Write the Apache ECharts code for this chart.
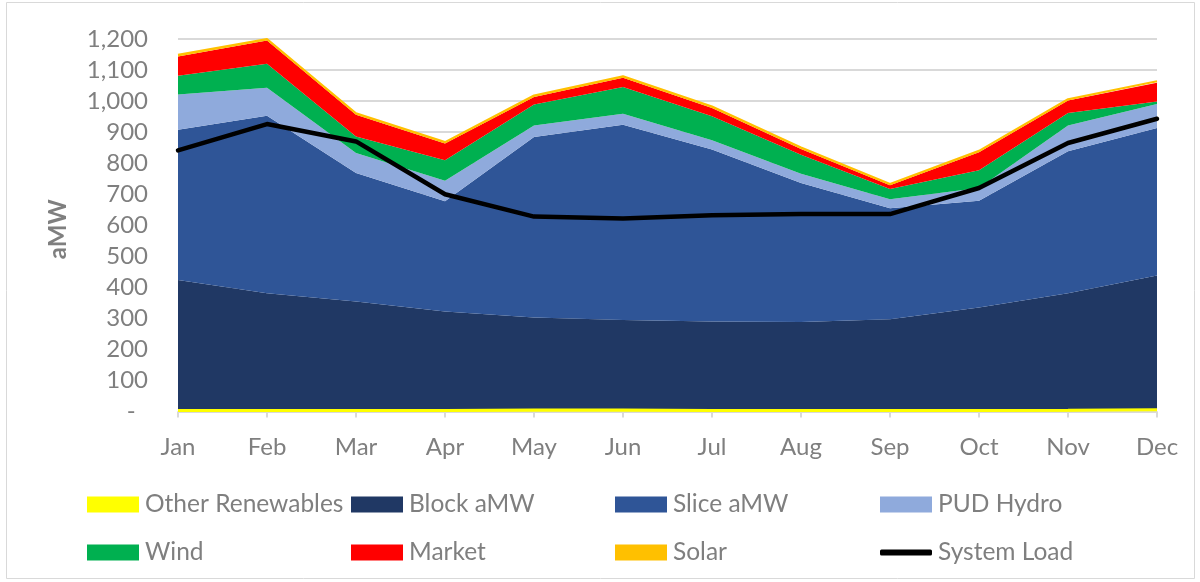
<!DOCTYPE html>
<html>
<head>
<meta charset="utf-8">
<script src="https://cdn.jsdelivr.net/npm/echarts@6/dist/echarts.min.js"></script>
<style>
html,body{margin:0;padding:0;background:#fff;}
#chart{width:1200px;height:582px;}
</style>
</head>
<body>
<div id="chart"></div>
<script>
const months = ['Jan','Feb','Mar','Apr','May','Jun','Jul','Aug','Sep','Oct','Nov','Dec'];
const otherRenewables = [3,3,3,3,5,5,3,3,3,3,4,6];
const blockAMW = [421,378,351,319,298,290,287,285,294,332,377,432];
const sliceAMW = [484,572,414,355,581,629,554,448,358,344,457,475];
const pudHydro = [113,90,65,66,37,35,30,30,29,41,83,78];
const wind = [61,77,53,66,68,86,77,61,33,57,41,8];
const market = [62,75,70,54,24,30,27,19,12,58,40,60];
const solar = [5,5,5,5,5,5,5,5,4,5,4,5];
const systemLoad = [841,926,870,700,628,622,632,636,636,720,865,943];

const FONT = 'Lato';
const GRAY = '#7f7f7f';

function areaSeries(name, data, color, lineW) {
  return {
    name: name, type: 'line', stack: 'total', data: data,
    showSymbol: false, symbol: 'none',
    lineStyle: { width: lineW || 0, color: color },
    itemStyle: { color: color },
    areaStyle: { color: color, opacity: 1 },
    emphasis: { disabled: true }
  };
}

const legendPos = [
  ['Other Renewables', 87, 0], ['Block aMW', 351, 0], ['Slice aMW', 615, 0], ['PUD Hydro', 880, 0],
  ['Wind', 87, 1], ['Market', 351, 1], ['Solar', 615, 1], ['System Load', 880, 1]
];
const rowY = [492, 540];
const legends = legendPos.map(function (p) {
  const isLine = p[0] === 'System Load';
  return {
    data: [isLine ? { name: p[0], icon: 'roundRect' } : { name: p[0], icon: 'rect' }],
    left: p[1], top: rowY[p[2]],
    itemWidth: 52, itemHeight: isLine ? 6 : 16, itemGap: 0,
    padding: 0,
    textStyle: { fontFamily: FONT, fontSize: 24.5, color: GRAY, padding: [0, 0, 0, 1], lineHeight: 24 },
    selectedMode: false
  };
});

const chart = echarts.init(document.getElementById('chart'), null, { renderer: 'canvas' });
chart.setOption({
  animation: false,
  backgroundColor: '#fff',
  grid: { left: 178, right: 43, top: 39, bottom: 170.5, containLabel: false },
  legend: legends,
  graphic: [{
    type: 'rect', shape: { x: 6.5, y: 2.5, width: 1188, height: 576 },
    style: { fill: 'none', stroke: '#d9d9d9', lineWidth: 1 }, silent: true, z: -10
  }],
  xAxis: {
    type: 'category', data: months, boundaryGap: false,
    axisLine: { lineStyle: { color: '#d9d9d9', width: 1 } },
    axisTick: { show: true, length: 6, lineStyle: { color: '#d9d9d9', width: 2 } },
    axisLabel: { fontFamily: FONT, fontSize: 24, color: GRAY, margin: 24 },
    splitLine: { show: false }
  },
  yAxis: {
    type: 'value', min: 0, max: 1200, interval: 100,
    name: 'aMW', nameLocation: 'middle', nameGap: 108,
    nameTextStyle: { fontFamily: FONT, fontSize: 24, fontWeight: 'bold', color: GRAY, padding: [0, 8, 0, 0] },
    axisLine: { show: false }, axisTick: { show: false },
    axisLabel: {
      fontFamily: FONT, fontSize: 24, color: GRAY, margin: 30,
      formatter: function (v) { return v === 0 ? '-  ' : v.toLocaleString('en-US'); }
    },
    splitLine: { lineStyle: { color: '#d9d9d9', width: 2 } }
  },
  series: [
    areaSeries('Other Renewables', otherRenewables, '#FFFF00', 3),
    areaSeries('Block aMW', blockAMW, '#203864'),
    areaSeries('Slice aMW', sliceAMW, '#2F5597'),
    areaSeries('PUD Hydro', pudHydro, '#8FAADC'),
    areaSeries('Wind', wind, '#00B050'),
    areaSeries('Market', market, '#FF0000'),
    areaSeries('Solar', solar, '#FFC000', 2),
    {
      name: 'System Load', type: 'line', data: systemLoad, z: 10,
      showSymbol: false, symbol: 'none',
      lineStyle: { width: 4.5, color: '#000', cap: 'round', join: 'round' },
      itemStyle: { color: '#000' },
      emphasis: { disabled: true }
    }
  ]
});
</script>
</body>
</html>
